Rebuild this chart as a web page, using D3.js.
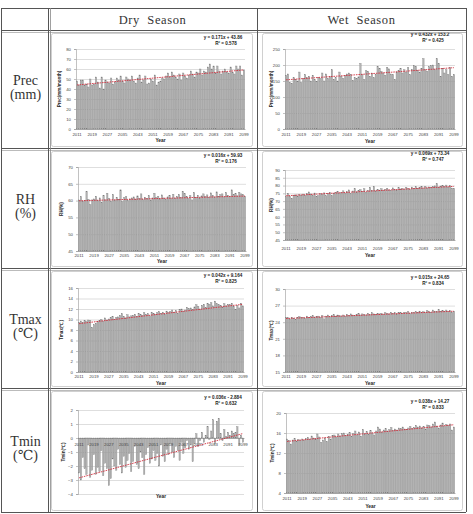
<!DOCTYPE html>
<html>
<head>
<meta charset="utf-8">
<script src="https://cdn.jsdelivr.net/npm/d3@7"></script>
<style>
  body { margin: 0; background: #fff; }
  svg { display: block; }
  .tick text { font-family: "Liberation Sans", Arial, sans-serif; fill: #444; }
  .grid line { stroke: #c8c8c8; stroke-width: 0.6; }
  .grid path { display: none; }
</style>
</head>
<body>
<div id="chart"></div>
<script>
//////////////////////////
// data
//////////////////////////
var years = d3.range(2011, 2100);
var yearLabels = [2011, 2019, 2027, 2035, 2043, 2051, 2059, 2067, 2075, 2083, 2091, 2099];
var seasons = ["Dry  Season", "Wet  Season"];
var rowNames = [["Prec", "(mm)"], ["RH", "(%)"], ["Tmax", "(\u2103)"], ["Tmin", "(\u2103)"]];

var precDry = [48, 44, 49, 49, 44, 45, 42, 50, 44, 45,
  52, 47, 41, 52, 40, 49, 47, 46, 51, 45,
  47, 51, 49, 53, 48, 46, 52, 50, 49, 53,
  48, 46, 51, 54, 47, 49, 53, 45, 46, 50,
  48, 54, 44, 47, 48, 51, 50, 53, 56, 52,
  57, 54, 52, 50, 55, 49, 56, 53, 51, 54,
  58, 55, 52, 57, 56, 60, 54, 58, 57, 62,
  65, 60, 63, 56, 63, 58, 55, 58, 60, 57,
  56, 62, 57, 55, 63, 60, 63, 54, 59];
var precWet = [168, 172, 145, 143, 160, 155, 150, 178, 145, 158,
  170, 160, 165, 150, 168, 155, 148, 162, 158, 175,
  150, 172, 158, 165, 185, 155, 160, 150, 178, 165,
  158, 168, 172, 175, 170, 152, 160, 158, 163, 205,
  170, 155, 182, 180, 165, 175, 160, 170, 195, 190,
  180, 175, 168, 193, 188, 172, 170, 155, 178, 182,
  190, 175, 185, 178, 192, 170, 186, 198, 196, 182,
  178, 190, 220, 185, 180, 195, 198, 200, 185, 220,
  205, 165, 190, 175, 185, 170, 192, 165, 170];
var rhDry = [60.2, 61.2, 59.8, 60.1, 62.7, 60.4, 58.8, 60.2, 60.5, 61.3,
  60.0, 60.8, 59.5, 61.5, 60.2, 62.2, 60.6, 59.9, 61.8, 60.1,
  61.0, 60.3, 63.2, 59.7, 60.9, 61.2, 60.0, 60.5, 60.8, 61.1,
  60.4, 61.4, 60.7, 62.0, 60.3, 61.0, 60.6, 61.5, 60.2, 60.8,
  62.2, 60.9, 61.3, 60.5, 61.7, 60.8, 60.3, 61.1, 61.6, 60.6,
  61.9, 60.7, 61.2, 61.8, 60.9, 62.8, 62.1, 61.3, 60.6, 61.5,
  60.2, 62.4, 61.0, 61.6, 60.8, 61.4, 62.0, 61.2, 61.7, 61.0,
  62.3, 61.5, 60.9, 62.6, 61.3, 61.8, 62.0, 61.1, 62.4, 61.6,
  61.2, 63.2, 61.9, 62.1, 61.4, 62.5, 62.0, 61.8, 61.3];
var rhWet = [72.8, 75.1, 73.0, 71.9, 73.5, 74.0, 73.2, 74.2, 73.8, 74.5,
  73.9, 74.8, 75.9, 74.6, 73.4, 75.2, 72.9, 73.6, 75.0, 74.3,
  75.3, 73.4, 74.8, 75.6, 73.6, 75.0, 75.4, 76.2, 74.9, 75.5,
  76.6, 75.2, 76.0, 77.2, 75.1, 76.5, 78.0, 75.8, 76.9, 77.4,
  76.3, 77.9, 75.7, 76.8, 78.8, 77.0, 79.4, 76.6, 77.5, 77.1,
  78.0, 76.9, 77.6, 78.3, 77.2, 76.8, 78.5, 77.7, 77.0, 78.6,
  77.8, 78.2, 77.4, 78.9, 78.1, 77.6, 79.0, 78.3, 79.2, 77.9,
  78.7, 79.3, 78.0, 79.6, 78.4, 79.1, 78.8, 79.5, 79.8, 81.2,
  78.6, 79.7, 80.1, 79.2, 80.3, 79.0, 79.9, 78.4, 78.2];
var tmaxDry = [9.5, 9.7, 9.4, 9.8, 9.6, 9.9, 9.8, 8.5, 9.0, 9.3,
  9.6, 9.8, 10.0, 9.7, 10.3, 9.9, 10.1, 10.4, 10.6, 10.0,
  10.4, 10.5, 10.8, 11.1, 10.6, 10.3, 10.9, 10.5, 10.7, 10.8,
  11.0, 10.6, 11.2, 10.9, 10.8, 11.3, 11.0, 11.1, 10.7, 11.4,
  11.1, 11.0, 11.3, 11.5, 11.2, 11.4, 11.0, 11.6, 11.3, 11.5,
  11.8, 11.4, 11.7, 11.2, 11.9, 12.0, 11.6, 11.8, 12.3, 12.1,
  12.2, 11.9, 12.4, 12.8, 12.5, 12.0, 12.7, 12.9, 12.3, 13.1,
  12.9, 13.2, 12.6, 13.5, 13.0, 12.8, 12.7, 12.4, 13.0, 12.6,
  12.9, 12.8, 13.1, 12.5, 11.9, 12.7, 12.2, 13.1, 12.6];
var tmaxWet = [24.9, 24.8, 24.6, 24.9, 24.7, 24.5, 24.8, 25.0, 24.9, 24.8,
  24.7, 25.1, 24.9, 25.0, 25.2, 24.8, 25.0, 25.1, 24.9, 25.2,
  24.6, 25.1, 25.3, 25.0, 25.2, 25.4, 25.1, 25.3, 25.2, 25.0,
  25.3, 25.1, 25.4, 25.2, 25.5, 25.3, 25.2, 25.4, 25.6, 25.3,
  25.5, 25.4, 25.3, 25.6, 25.4, 25.7, 25.5, 25.4, 25.6, 25.5,
  25.6, 25.4, 25.7, 25.6, 25.5, 25.8, 25.6, 25.7, 25.5, 25.8,
  25.7, 25.6, 25.8, 25.7, 25.9, 25.6, 25.8, 25.7, 25.9, 25.8,
  26.0, 25.8, 25.9, 25.7, 26.1, 25.9, 25.8, 26.2, 26.0, 25.9,
  26.3, 25.9, 26.1, 26.0, 26.2, 25.9, 26.1, 25.8, 26.0];
var tminDry = [-2.5, -3.0, -1.4, -2.2, -2.6, -0.5, -2.8, -2.3, -1.2, -2.6,
  -2.1, -2.4, -0.9, -2.7, -1.8, -2.2, -3.4, -2.9, -1.5, -2.0,
  -2.3, -0.8, -1.9, -2.5, -1.3, -2.1, -1.6, -1.1, -2.4, -1.7,
  -0.6, -1.9, -2.2, -1.0, -1.4, -2.6, -1.2, -0.7, -1.8, -1.5,
  -0.9, -1.6, -1.1, -2.0, -0.5, -1.3, -1.7, -0.8, -1.2, -0.4,
  -1.0, -1.4, -0.6, -0.9, -1.6, -0.3, -1.1, -0.7, -0.2, -0.8,
  -0.5, -1.7, -0.4, 0.3, -0.6, -0.2, 0.4, -0.3, 0.2, 0.8,
  -0.1, 0.5, 1.3, -0.4, 1.2, 1.4, 0.3, -0.2, 0.6, 0.1,
  0.4, 0.2, 0.5, 0.3, 0.4, 0.8, -0.5, 0.2, -0.3];
var tminWet = [14.8, 14.5, 13.8, 14.6, 14.9, 14.4, 14.7, 14.5, 14.8, 14.6,
  14.9, 15.1, 14.7, 15.4, 15.0, 14.8, 15.8, 15.2, 14.1, 14.6,
  15.0, 14.3, 15.3, 14.8, 15.5, 15.6, 15.2, 15.8, 15.4, 15.9,
  16.0, 15.5, 15.7, 16.1, 15.3, 15.9, 16.4, 15.6, 16.2, 15.4,
  16.7, 15.8, 16.3, 15.7, 16.5, 16.0, 15.6, 16.4, 17.2, 16.8,
  16.2, 16.6, 16.9, 16.4, 16.7, 17.1, 16.5, 16.8, 16.6, 17.0,
  16.9, 17.2, 16.8, 16.7, 17.0, 17.3, 16.9, 17.1, 17.5, 17.2,
  17.4, 17.0, 17.3, 16.8, 17.6, 17.5, 17.2, 17.8, 18.2, 17.4,
  17.0, 17.6, 18.0, 17.3, 17.7, 17.5, 17.8, 16.6, 17.2];

// trend line coefficients (slope, intercept) and labels
var slopes     = [0.171, 0.432, 0.016, 0.069, 0.042, 0.015, 0.036, 0.038];
var intercepts = [43.86, 153.2, 59.93, 73.34, 9.164, 24.65, -2.884, 14.27];
var eqLabels   = ["y = 0.171x + 43.86", "y = 0.432x + 153.2", "y = 0.016x + 59.93", "y = 0.069x + 73.34",
                  "y = 0.042x + 9.164", "y = 0.015x + 24.65", "y = 0.036x - 2.884", "y = 0.038x + 14.27"];
var r2Labels   = ["R\u00b2 = 0.578", "R\u00b2 = 0.425", "R\u00b2 = 0.176", "R\u00b2 = 0.747",
                  "R\u00b2 = 0.825", "R\u00b2 = 0.834", "R\u00b2 = 0.632", "R\u00b2 = 0.833"];
var yTitles    = ["Prec(mm/month)", "Prec(mm/month)", "RH(%)", "RH(%)", "Tmax(\u2103)", "Tmax(\u2103)", "Tmin(\u2103)", "Tmin(\u2103)"];
var yDomains   = [[0, 80], [0, 250], [45, 70], [45, 90], [0, 16], [15, 30], [-4, 2], [4, 20]];
var ySteps     = [10, 50, 5, 5, 2, 3, 1, 4];
var series     = [precDry, precWet, rhDry, rhWet, tmaxDry, tmaxWet, tminDry, tminWet];

//////////////////////////
// layout
//////////////////////////
var W = 473, H = 514;
var colX = [1, 48, 257, 466],
    rowY = [8, 30, 148, 268, 388, 512];

// per panel: box, plot area, label positions
var layout = [
  {box: [51, 33, 252, 146], l: 76, r: 245, t: 49, b: 129, xl: 135, yr: 142, eq: [223, 39], yt: 61},
  {box: [262, 33, 462, 146], l: 285, r: 455, t: 49, b: 129, xl: 135, yr: 143, eq: [430, 36], yt: 273},
  {box: [51, 151, 252, 266], l: 78, r: 246, t: 167, b: 251, xl: 256, yr: 263, eq: [223, 157], yt: 63},
  {box: [262, 151, 462, 266], l: 285, r: 455, t: 170, b: 240, xl: 249, yr: 257, eq: [430, 155], yt: 273},
  {box: [51, 271, 252, 386], l: 78, r: 244, t: 288, b: 372, xl: 377, yr: 385, eq: [223, 277], yt: 63},
  {box: [262, 271, 462, 386], l: 285, r: 455, t: 289, b: 372, xl: 377, yr: 385, eq: [430, 279], yt: 273},
  {box: [51, 391, 252, 510], l: 78, r: 244, t: 410, b: 494, xl: null, yr: 498, eq: [223, 399], yt: 65},
  {box: [262, 391, 462, 510], l: 286, r: 455, t: 413, b: 493, xl: 499, yr: 508, eq: [430, 403], yt: 274}
];

var svg = d3.select("#chart").append("svg")
  .attr("width", W)
  .attr("height", H);

//////////////////////////
// panels
//////////////////////////
function panel(i) {
  var L = layout[i], data = series[i], dom = yDomains[i];
  var g = svg.append("g").attr("class", "panel panel-" + i);

  // chart area border
  g.append("rect")
    .attr("x", L.box[0] + 0.5).attr("y", L.box[1] + 0.5)
    .attr("width", L.box[2] - L.box[0]).attr("height", L.box[3] - L.box[1])
    .attr("rx", 2)
    .attr("fill", "#fff").attr("stroke", "#c4c4c4").attr("stroke-width", 0.8);

  // scales
  var x = d3.scaleBand()
    .domain(years)
    .range([L.l, L.r])
    .paddingInner(0.3)
    .paddingOuter(0.2);
  var y = d3.scaleLinear()
    .domain(dom)
    .range([L.b, L.t]);
  var ticks = d3.range(dom[0], dom[1] + ySteps[i] / 2, ySteps[i]);
  var base = dom[0] < 0 ? 0 : dom[0];

  // gridlines
  g.append("g")
    .attr("class", "grid")
    .attr("transform", "translate(" + L.l + ",0)")
    .call(d3.axisLeft(y).tickValues(ticks).tickSize(-(L.r - L.l)).tickFormat(""));

  // y axis
  var ya = g.append("g")
    .attr("transform", "translate(" + L.l + ",0)")
    .call(d3.axisLeft(y).tickValues(ticks).tickSize(2).tickPadding(3).tickFormat(d3.format("d")));
  ya.select(".domain").attr("stroke", "#999").attr("stroke-width", 0.6);
  ya.selectAll(".tick line").attr("stroke", "#999").attr("stroke-width", 0.6);
  ya.selectAll("text").attr("font-size", 4.3);

  // bars
  g.selectAll("rect.bar")
    .data(data)
    .enter().append("rect")
    .attr("class", "bar")
    .attr("x", function(d, k) { return x(years[k]); })
    .attr("width", x.bandwidth())
    .attr("y", function(d) { return Math.min(y(d), y(base)); })
    .attr("height", function(d) { return Math.abs(y(d) - y(base)); })
    .attr("fill", "#b5b5b5")
    .attr("stroke", "#7a7a7a")
    .attr("stroke-width", 0.35);

  // x axis
  var xa = g.append("g")
    .attr("transform", "translate(0," + y(base) + ")")
    .call(d3.axisBottom(x).tickValues(yearLabels).tickSize(0).tickPadding(L.xl ? L.xl - y(base) - 2 : 5));
  xa.select(".domain").attr("stroke", "#888").attr("stroke-width", 0.6);
  xa.selectAll("text").attr("font-size", 4.3);

  // trend line
  var line = d3.line()
    .x(function(d) { return x(d) + x.bandwidth() / 2; })
    .y(function(d) { return y(slopes[i] * (d - 2010) + intercepts[i]); });
  g.append("path")
    .datum([years[0], years[years.length - 1]])
    .attr("d", line)
    .attr("fill", "none")
    .attr("stroke", "#d3303e")
    .attr("stroke-width", 0.9)
    .attr("stroke-dasharray", "1.6,0.9");

  // equation
  g.append("text")
    .attr("x", L.eq[0]).attr("y", L.eq[1])
    .attr("text-anchor", "middle")
    .attr("font-family", "Liberation Sans, Arial, sans-serif")
    .attr("font-size", 4.6).attr("font-weight", "bold").attr("fill", "#222")
    .text(eqLabels[i]);
  g.append("text")
    .attr("x", L.eq[0] + 3).attr("y", L.eq[1] + 6)
    .attr("text-anchor", "middle")
    .attr("font-family", "Liberation Sans, Arial, sans-serif")
    .attr("font-size", 4.6).attr("font-weight", "bold").attr("fill", "#222")
    .text(r2Labels[i]);

  // axis titles
  g.append("text")
    .attr("x", (L.l + L.r) / 2).attr("y", L.yr)
    .attr("text-anchor", "middle")
    .attr("font-family", "Liberation Sans, Arial, sans-serif")
    .attr("font-size", 4.8).attr("font-weight", "bold").attr("fill", "#222")
    .text("Year");
  g.append("text")
    .attr("transform", "translate(" + L.yt + "," + ((L.t + L.b) / 2) + ") rotate(-90)")
    .attr("text-anchor", "middle")
    .attr("font-family", "Liberation Sans, Arial, sans-serif")
    .attr("font-size", 4.6).attr("font-weight", "bold").attr("fill", "#222")
    .text(yTitles[i]);
}

for (var i = 0; i < series.length; i++) panel(i);

//////////////////////////
// table
//////////////////////////
var tbl = svg.append("g").attr("class", "table");

// horizontal rules (double)
rowY.forEach(function(yy, k) {
  tbl.append("line")
    .attr("x1", colX[0]).attr("x2", colX[3])
    .attr("y1", yy + 0.5).attr("y2", yy + 0.5)
    .attr("stroke", "#555").attr("stroke-width", 1);
  if (k > 0 && k < rowY.length - 1) {
    tbl.append("line")
      .attr("x1", colX[0]).attr("x2", colX[3])
      .attr("y1", yy + 2.5).attr("y2", yy + 2.5)
      .attr("stroke", "#aaa").attr("stroke-width", 0.8);
  }
});
// vertical rules
colX.forEach(function(xx, k) {
  tbl.append("line")
    .attr("x1", xx + 0.5).attr("x2", xx + 0.5)
    .attr("y1", rowY[0]).attr("y2", rowY[rowY.length - 1])
    .attr("stroke", "#555").attr("stroke-width", 1);
  if (k == 1) {
    tbl.append("line")
      .attr("x1", xx + 2.5).attr("x2", xx + 2.5)
      .attr("y1", rowY[0]).attr("y2", rowY[rowY.length - 1])
      .attr("stroke", "#888").attr("stroke-width", 0.8);
  }
});

// header
tbl.selectAll("text.season")
  .data(seasons)
  .enter().append("text")
  .attr("class", "season")
  .attr("x", function(d, k) { return (colX[k + 1] + colX[k + 2]) / 2; })
  .attr("y", 24)
  .attr("text-anchor", "middle")
  .attr("font-family", "Liberation Serif, DejaVu Serif, serif")
  .attr("font-size", 12.5)
  .attr("letter-spacing", 0.6)
  .attr("fill", "#333")
  .style("white-space", "pre")
  .text(function(d) { return d; });

// row names
rowNames.forEach(function(nm, k) {
  var cy = (rowY[k + 1] + rowY[k + 2]) / 2;
  nm.forEach(function(s, j) {
    tbl.append("text")
      .attr("x", (colX[0] + colX[1]) / 2 + 1)
      .attr("y", cy - 4 + j * 14)
      .attr("text-anchor", "middle")
      .attr("font-family", "Liberation Serif, DejaVu Serif, serif")
      .attr("font-size", 14)
      .attr("fill", "#333")
      .text(s);
  });
});
</script>
</body>
</html>
